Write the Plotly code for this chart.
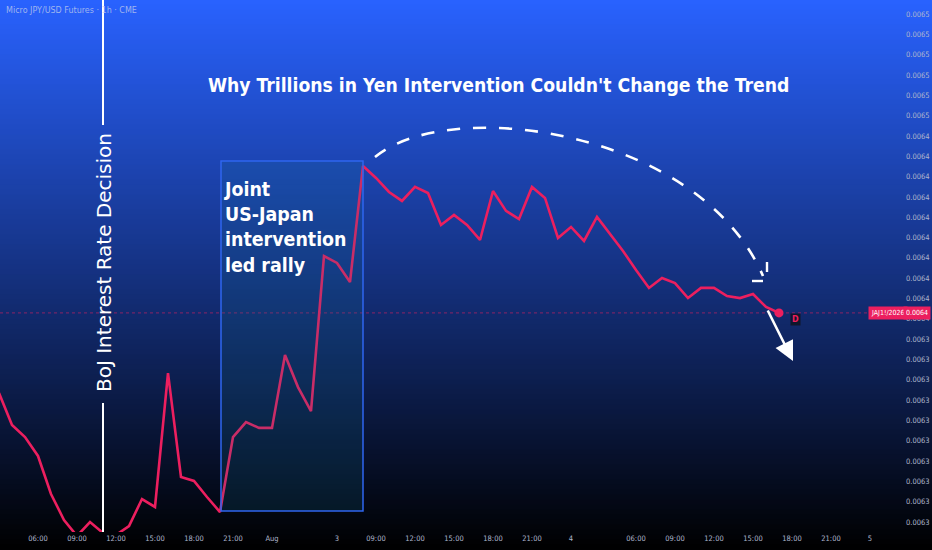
import plotly.graph_objects as go
from decimal import Decimal, ROUND_HALF_UP

# ---------------- data ----------------
bar_index = list(range(-3, 58))
close = [
    0.0063135, 0.0062977, 0.0062918, 0.0062825, 0.0062638, 0.0062510, 0.0062431,
    0.0062500, 0.0062446, 0.0062436, 0.0062480, 0.0062613, 0.0062574, 0.0063233,
    0.0062721, 0.0062702, 0.0062623, 0.0062549, 0.0062918, 0.0062992, 0.0062963,
    0.0062963, 0.0063322, 0.0063164, 0.0063046, 0.0063809, 0.0063775, 0.0063681,
    0.0064252, 0.0064193, 0.0064124, 0.0064080, 0.0064149, 0.0064119, 0.0063962,
    0.0064011, 0.0063962, 0.0063888, 0.0064129, 0.0064031, 0.0063991, 0.0064149,
    0.0064095, 0.0063898, 0.0063952, 0.0063883, 0.0064001, 0.0063917, 0.0063834,
    0.0063740, 0.0063652, 0.0063701, 0.0063676, 0.0063602, 0.0063652, 0.0063652,
    0.0063612, 0.0063602, 0.0063622, 0.0063558, 0.0063529,
]
x_tick_pos = [0, 3, 6, 9, 12, 15, 18, 23, 26, 29, 32, 35, 38, 41, 46, 49, 52, 55, 58, 61, 64]
x_tick_labels = ["06:00", "09:00", "12:00", "15:00", "18:00", "21:00", "Aug", "3",
                 "09:00", "12:00", "15:00", "18:00", "21:00", "4", "06:00", "09:00",
                 "12:00", "15:00", "18:00", "21:00", "5"]
y_tick_vals = [round(0.00625 + k * 0.00001, 5) for k in range(26)]
y_tick_labels = [str(Decimal(repr(v)).quantize(Decimal("0.0001"), rounding=ROUND_HALF_UP)) for v in y_tick_vals]

# ---------------- geometry helpers (drawing tools placed in pixel space) ----------------
W, H = 932, 550
ML, MR, MT, MB = 0, 52, 0, 18
PW, PH = W - ML - MR, H - MT - MB
BAR_PX, BAR0_PX = 13.0, 38.0
PRICE_TOP, PX_TOP, PX_PER_STEP = 0.0065, 14.0, 20.32


def bx(px):
    return (px - BAR0_PX) / BAR_PX


def py(p):
    return PRICE_TOP - (p - PX_TOP) * 1e-5 / PX_PER_STEP


def ypap(p):
    return (MT + PH - p) / PH


LINE = "#ec1f5f"
AXIS_TXT = "#aeb6cc"
COND = "DejaVu Sans Condensed, sans-serif"

fig = go.Figure()

# price line
fig.add_trace(go.Scatter(x=bar_index, y=close, mode="lines",
                         line=dict(color=LINE, width=2.6), hoverinfo="skip", showlegend=False))
# last point dot
fig.add_trace(go.Scatter(x=[bar_index[-1]], y=[close[-1]], mode="markers",
                         marker=dict(color=LINE, size=9), hoverinfo="skip", showlegend=False))

shapes = []
# background gradient (blue -> black)
n = 110
for k in range(n):
    t0 = k / n
    t1 = (k + 1) / n
    tm = (k + 0.5) / n
    r, g, b = 41 * (1 - tm), 98 * (1 - tm), 255 * (1 - tm)
    shapes.append(dict(type="rect", xref="paper", yref="paper",
                       x0=-0.01, x1=W / PW + 0.01,
                       y0=ypap(t1 * H + 0.5), y1=ypap(t0 * H - 0.5),
                       fillcolor=f"rgb({r:.0f},{g:.0f},{b:.0f})", line=dict(width=0),
                       layer="below"))

# last price dotted line
shapes.append(dict(type="line", xref="paper", yref="y", x0=0, x1=1,
                   y0=close[-1], y1=close[-1],
                   line=dict(color="rgba(236,31,95,0.55)", width=1, dash="dot")))

# intervention box
shapes.append(dict(type="rect", xref="x", yref="y", x0=bx(221), x1=bx(363), y0=py(511), y1=py(161),
                   fillcolor="rgba(20,120,150,0.16)", line=dict(color="#2f66f0", width=1.5)))

# BoJ vertical line (split around text)
shapes.append(dict(type="line", xref="x", yref="paper", x0=bx(103), x1=bx(103),
                   y0=ypap(125), y1=ypap(-2), line=dict(color="white", width=2)))
shapes.append(dict(type="line", xref="x", yref="paper", x0=bx(103), x1=bx(103),
                   y0=ypap(532), y1=ypap(403), line=dict(color="white", width=2)))

# dashed arc
x0, y0 = bx(375), py(157)
c1x, c1y = bx(450), py(95)
c2x, c2y = bx(700), py(130)
x3, y3 = bx(763), py(276)
shapes.append(dict(type="path", xref="x", yref="y",
                   path=f"M {x0},{y0} C {c1x},{c1y} {c2x},{c2y} {x3},{y3}",
                   line=dict(color="white", width=2.6, dash="13px,13px")))
# arc arrowhead pieces
shapes.append(dict(type="line", xref="x", yref="y", x0=bx(767), x1=bx(767), y0=py(262), y1=py(272),
                   line=dict(color="white", width=2.4)))
shapes.append(dict(type="line", xref="x", yref="y", x0=bx(752), x1=bx(763), y0=py(281), y1=py(281),
                   line=dict(color="white", width=2.4)))

annotations = []
annotations.append(dict(text="Why Trillions in Yen Intervention Couldn't Change the Trend",
                        xref="x", yref="y", x=bx(498), y=py(85), showarrow=False,
                        font=dict(family=COND, size=19.2, color="white", weight="bold"),
                        xanchor="center", yanchor="middle"))
annotations.append(dict(text="Joint<br>US-Japan<br>intervention<br>led rally",
                        xref="x", yref="y", x=bx(222), y=py(176), showarrow=False, align="left",
                        font=dict(family=COND, size=19.4, color="white", weight="bold"),
                        xanchor="left", yanchor="top"))
annotations.append(dict(text="BoJ Interest Rate Decision", textangle=-90,
                        xref="x", yref="y", x=bx(104), y=py(263), showarrow=False,
                        font=dict(family="DejaVu Sans, sans-serif", size=20, color="white"),
                        xanchor="center", yanchor="middle"))
annotations.append(dict(text="Micro JPY/USD Futures · 1h · CME", xref="paper", yref="paper",
                        x=0.004, y=ypap(11), showarrow=False, xanchor="left", yanchor="middle",
                        font=dict(family="DejaVu Sans, sans-serif", size=8, color="rgba(200,210,235,0.75)")))
# white trend arrow
annotations.append(dict(text="", xref="x", yref="y", x=bx(793), y=py(361),
                        ax=bx(767), ay=py(309), axref="x", ayref="y", showarrow=True,
                        arrowhead=2, arrowsize=1.5, arrowwidth=2.6, arrowcolor="white"))
# D marker
annotations.append(dict(text="<b>D</b>", xref="x", yref="y", x=bx(795), y=py(319), showarrow=False,
                        font=dict(family="DejaVu Sans, sans-serif", size=8, color=LINE),
                        bgcolor="#10162b", borderpad=1))
# right price labels
annotations.append(dict(text="JAJ1!/2026", xref="paper", yref="y", x=(888 - ML) / PW, y=close[-1],
                        showarrow=False, xanchor="center", yanchor="middle",
                        font=dict(family=COND, size=7, color="white"),
                        bgcolor=LINE, borderpad=2))
annotations.append(dict(text="0.0064", xref="paper", yref="y", x=(917 - ML) / PW, y=close[-1],
                        showarrow=False, xanchor="center", yanchor="middle",
                        font=dict(family=COND, size=7, color="white"),
                        bgcolor=LINE, borderpad=2))

fig.update_layout(
    width=W, height=H, margin=dict(l=ML, r=MR, t=MT, b=MB),
    paper_bgcolor="black", plot_bgcolor="rgba(0,0,0,0)",
    shapes=shapes, annotations=annotations, showlegend=False,
    xaxis=dict(range=[bx(0), bx(PW)], tickvals=x_tick_pos, ticktext=x_tick_labels,
               showgrid=False, zeroline=False, showline=False, ticks="",
               tickfont=dict(family=COND, size=7.5, color=AXIS_TXT),
               fixedrange=True),
    yaxis=dict(range=[py(PH), py(0)], side="right", tickvals=y_tick_vals, ticktext=y_tick_labels,
               showgrid=False, zeroline=False, showline=False, ticks="",
               ticklabelstandoff=25,
               tickfont=dict(family=COND, size=7.5, color=AXIS_TXT),
               fixedrange=True),
)

fig.write_html("out.html", config={"displayModeBar": False},
               post_script="document.body.style.margin='0';document.body.style.overflow='hidden';")
